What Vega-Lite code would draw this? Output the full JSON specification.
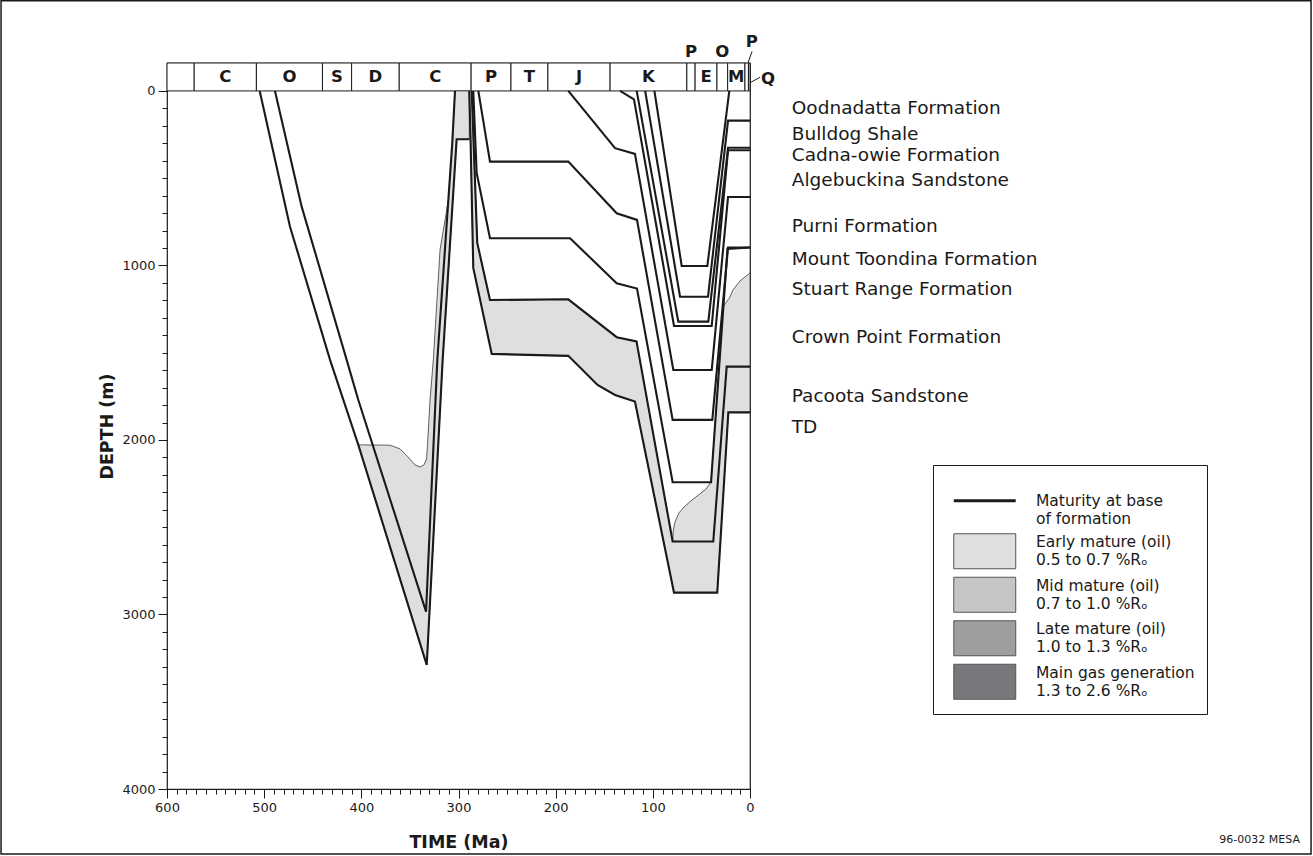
{
  "$schema": "https://vega.github.io/schema/vega-lite/v6.json",
  "width": 583,
  "height": 726,
  "autosize": {"type": "none"},
  "padding": {"left": 167, "top": 63, "right": 563, "bottom": 67},
  "background": "white",
  "config": {
    "view": {"stroke": "#1a1a1a", "strokeWidth": 1.2},
    "font": "DejaVu Sans",
    "text": {"font": "DejaVu Sans", "color": "#1a1a1a"},
    "axis": {"labelFont": "DejaVu Sans", "titleFont": "DejaVu Sans", "labelColor": "#1a1a1a", "titleColor": "#1a1a1a", "tickColor": "#1a1a1a", "grid": false, "domain": false, "labelFlush": false, "labelOverlap": false}
  },
  "resolve": {"axis": {"x": "independent", "y": "independent"}},
  "datasets": {
    "periods": [
      {"id": 1, "lab": "", "start": 600, "end": 572},
      {"id": 2, "lab": "C", "start": 572, "end": 508},
      {"id": 3, "lab": "O", "start": 508, "end": 440},
      {"id": 4, "lab": "S", "start": 440, "end": 410},
      {"id": 5, "lab": "D", "start": 410, "end": 361},
      {"id": 6, "lab": "C", "start": 361, "end": 287},
      {"id": 7, "lab": "P", "start": 287, "end": 246},
      {"id": 8, "lab": "T", "start": 246, "end": 208},
      {"id": 9, "lab": "J", "start": 208, "end": 144},
      {"id": 10, "lab": "K", "start": 144, "end": 65},
      {"id": 11, "lab": "P", "start": 65, "end": 56.5},
      {"id": 12, "lab": "E", "start": 56.5, "end": 34},
      {"id": 13, "lab": "O", "start": 34, "end": 23},
      {"id": 14, "lab": "M", "start": 23, "end": 5.2},
      {"id": 15, "lab": "P", "start": 5.2, "end": 1.6},
      {"id": 16, "lab": "Q", "start": 1.6, "end": 0}
    ],
    "polys": [
      {"poly": "A", "zone": "early", "ord": 1, "t": 403.1, "d": 2028},
      {"poly": "A", "zone": "early", "ord": 2, "t": 370.5, "d": 2030},
      {"poly": "A", "zone": "early", "ord": 3, "t": 360.2, "d": 2051},
      {"poly": "A", "zone": "early", "ord": 4, "t": 352.0, "d": 2097},
      {"poly": "A", "zone": "early", "ord": 5, "t": 344.8, "d": 2143},
      {"poly": "A", "zone": "early", "ord": 6, "t": 339.6, "d": 2155},
      {"poly": "A", "zone": "early", "ord": 7, "t": 335.5, "d": 2143},
      {"poly": "A", "zone": "early", "ord": 8, "t": 332.9, "d": 2109},
      {"poly": "A", "zone": "early", "ord": 9, "t": 331.9, "d": 2028},
      {"poly": "A", "zone": "early", "ord": 10, "t": 329.3, "d": 1771},
      {"poly": "A", "zone": "early", "ord": 11, "t": 325.9, "d": 1541},
      {"poly": "A", "zone": "early", "ord": 12, "t": 319.0, "d": 911},
      {"poly": "A", "zone": "early", "ord": 13, "t": 310.4, "d": 625},
      {"poly": "A", "zone": "early", "ord": 14, "t": 306.4, "d": 298},
      {"poly": "A", "zone": "early", "ord": 15, "t": 303.6, "d": 0},
      {"poly": "A", "zone": "early", "ord": 16, "t": 288.9, "d": 0},
      {"poly": "A", "zone": "early", "ord": 17, "t": 288.9, "d": 277},
      {"poly": "A", "zone": "early", "ord": 18, "t": 301.9, "d": 277},
      {"poly": "A", "zone": "early", "ord": 19, "t": 316.3, "d": 1541},
      {"poly": "A", "zone": "early", "ord": 20, "t": 332.7, "d": 3289},
      {"poly": "A", "zone": "early", "ord": 21, "t": 403.1, "d": 2028},
      {"poly": "B", "zone": "early", "ord": 1, "t": 286.4, "d": 0},
      {"poly": "B", "zone": "early", "ord": 2, "t": 280.7, "d": 871},
      {"poly": "B", "zone": "early", "ord": 3, "t": 267.6, "d": 1198},
      {"poly": "B", "zone": "early", "ord": 4, "t": 187.0, "d": 1194},
      {"poly": "B", "zone": "early", "ord": 5, "t": 137.2, "d": 1411},
      {"poly": "B", "zone": "early", "ord": 6, "t": 116.8, "d": 1435},
      {"poly": "B", "zone": "early", "ord": 7, "t": 79.6, "d": 2582},
      {"poly": "B", "zone": "early", "ord": 8, "t": 78.9, "d": 2515},
      {"poly": "B", "zone": "early", "ord": 9, "t": 77.2, "d": 2470},
      {"poly": "B", "zone": "early", "ord": 10, "t": 73.1, "d": 2418},
      {"poly": "B", "zone": "early", "ord": 11, "t": 67.9, "d": 2384},
      {"poly": "B", "zone": "early", "ord": 12, "t": 59.7, "d": 2344},
      {"poly": "B", "zone": "early", "ord": 13, "t": 51.5, "d": 2309},
      {"poly": "B", "zone": "early", "ord": 14, "t": 45.3, "d": 2281},
      {"poly": "B", "zone": "early", "ord": 15, "t": 40.1, "d": 2242},
      {"poly": "B", "zone": "early", "ord": 16, "t": 34.5, "d": 1799},
      {"poly": "B", "zone": "early", "ord": 17, "t": 29.8, "d": 1427},
      {"poly": "B", "zone": "early", "ord": 18, "t": 27.3, "d": 1232},
      {"poly": "B", "zone": "early", "ord": 19, "t": 21.1, "d": 1186},
      {"poly": "B", "zone": "early", "ord": 20, "t": 17.5, "d": 1140},
      {"poly": "B", "zone": "early", "ord": 21, "t": 10.3, "d": 1089},
      {"poly": "B", "zone": "early", "ord": 22, "t": 0, "d": 1043},
      {"poly": "B", "zone": "early", "ord": 23, "t": 0, "d": 1842},
      {"poly": "B", "zone": "early", "ord": 24, "t": 22.3, "d": 1842},
      {"poly": "B", "zone": "early", "ord": 25, "t": 33.7, "d": 2875},
      {"poly": "B", "zone": "early", "ord": 26, "t": 78.2, "d": 2875},
      {"poly": "B", "zone": "early", "ord": 27, "t": 118.4, "d": 1780},
      {"poly": "B", "zone": "early", "ord": 28, "t": 138.9, "d": 1742},
      {"poly": "B", "zone": "early", "ord": 29, "t": 156.9, "d": 1685},
      {"poly": "B", "zone": "early", "ord": 30, "t": 187.0, "d": 1518},
      {"poly": "B", "zone": "early", "ord": 31, "t": 265.8, "d": 1507},
      {"poly": "B", "zone": "early", "ord": 32, "t": 284.8, "d": 1014},
      {"poly": "B", "zone": "early", "ord": 33, "t": 287.6, "d": 277},
      {"poly": "B", "zone": "early", "ord": 34, "t": 288.9, "d": 0},
      {"poly": "B", "zone": "early", "ord": 35, "t": 286.4, "d": 0}
    ],
    "lines": [
      {"ln": "L1", "ord": 1, "t": 504.6, "d": 0},
      {"ln": "L1", "ord": 2, "t": 473.4, "d": 778},
      {"ln": "L1", "ord": 3, "t": 432.2, "d": 1541},
      {"ln": "L1", "ord": 4, "t": 403.1, "d": 2028},
      {"ln": "L1", "ord": 5, "t": 332.7, "d": 3289},
      {"ln": "L1", "ord": 6, "t": 316.3, "d": 1541},
      {"ln": "L1", "ord": 7, "t": 301.9, "d": 277},
      {"ln": "L1", "ord": 8, "t": 288.9, "d": 277},
      {"ln": "L2", "ord": 1, "t": 488.9, "d": 0},
      {"ln": "L2", "ord": 2, "t": 461.4, "d": 663},
      {"ln": "L2", "ord": 3, "t": 415.1, "d": 1541},
      {"ln": "L2", "ord": 4, "t": 403.1, "d": 1771},
      {"ln": "L2", "ord": 5, "t": 333.4, "d": 2984},
      {"ln": "L2", "ord": 6, "t": 321.8, "d": 1541},
      {"ln": "L2", "ord": 7, "t": 306.4, "d": 298},
      {"ln": "L2", "ord": 8, "t": 303.6, "d": 0},
      {"ln": "P4", "ord": 1, "t": 288.9, "d": 0},
      {"ln": "P4", "ord": 2, "t": 287.6, "d": 277},
      {"ln": "P4", "ord": 3, "t": 284.8, "d": 1014},
      {"ln": "P4", "ord": 4, "t": 265.8, "d": 1507},
      {"ln": "P4", "ord": 5, "t": 187.0, "d": 1518},
      {"ln": "P4", "ord": 6, "t": 156.9, "d": 1685},
      {"ln": "P4", "ord": 7, "t": 138.9, "d": 1742},
      {"ln": "P4", "ord": 8, "t": 118.4, "d": 1780},
      {"ln": "P4", "ord": 9, "t": 78.2, "d": 2875},
      {"ln": "P4", "ord": 10, "t": 33.7, "d": 2875},
      {"ln": "P4", "ord": 11, "t": 22.3, "d": 1842},
      {"ln": "P4", "ord": 12, "t": 0, "d": 1842},
      {"ln": "P3", "ord": 1, "t": 286.4, "d": 0},
      {"ln": "P3", "ord": 2, "t": 280.7, "d": 871},
      {"ln": "P3", "ord": 3, "t": 267.6, "d": 1198},
      {"ln": "P3", "ord": 4, "t": 187.0, "d": 1194},
      {"ln": "P3", "ord": 5, "t": 137.2, "d": 1411},
      {"ln": "P3", "ord": 6, "t": 116.8, "d": 1435},
      {"ln": "P3", "ord": 7, "t": 79.6, "d": 2582},
      {"ln": "P3", "ord": 8, "t": 37.8, "d": 2582},
      {"ln": "P3", "ord": 9, "t": 24.0, "d": 1580},
      {"ln": "P3", "ord": 10, "t": 0, "d": 1580},
      {"ln": "P2", "ord": 1, "t": 284.8, "d": 0},
      {"ln": "P2", "ord": 2, "t": 281.3, "d": 470},
      {"ln": "P2", "ord": 3, "t": 267.6, "d": 844},
      {"ln": "P2", "ord": 4, "t": 185.2, "d": 844},
      {"ln": "P2", "ord": 5, "t": 137.2, "d": 1102},
      {"ln": "P2", "ord": 6, "t": 116.3, "d": 1132},
      {"ln": "P2", "ord": 7, "t": 79.6, "d": 2242},
      {"ln": "P2", "ord": 8, "t": 40.1, "d": 2242},
      {"ln": "P2", "ord": 9, "t": 23.2, "d": 905},
      {"ln": "P2", "ord": 10, "t": 0, "d": 897},
      {"ln": "P1", "ord": 1, "t": 279.6, "d": 0},
      {"ln": "P1", "ord": 2, "t": 267.6, "d": 405},
      {"ln": "P1", "ord": 3, "t": 187.0, "d": 405},
      {"ln": "P1", "ord": 4, "t": 137.2, "d": 701},
      {"ln": "P1", "ord": 5, "t": 116.3, "d": 739},
      {"ln": "P1", "ord": 6, "t": 79.6, "d": 1885},
      {"ln": "P1", "ord": 7, "t": 38.8, "d": 1885},
      {"ln": "P1", "ord": 8, "t": 22.6, "d": 897},
      {"ln": "P1", "ord": 9, "t": 0, "d": 897},
      {"ln": "J", "ord": 1, "t": 187.0, "d": 0},
      {"ln": "J", "ord": 2, "t": 138.9, "d": 328},
      {"ln": "J", "ord": 3, "t": 118.4, "d": 361},
      {"ln": "J", "ord": 4, "t": 78.9, "d": 1599},
      {"ln": "J", "ord": 5, "t": 39.4, "d": 1599},
      {"ln": "J", "ord": 6, "t": 22.6, "d": 608},
      {"ln": "J", "ord": 7, "t": 0, "d": 608},
      {"ln": "K0", "ord": 1, "t": 133.8, "d": 0},
      {"ln": "K0", "ord": 2, "t": 119.4, "d": 48},
      {"ln": "K0", "ord": 3, "t": 78.2, "d": 1347},
      {"ln": "K0", "ord": 4, "t": 39.4, "d": 1347},
      {"ln": "K0", "ord": 5, "t": 22.6, "d": 340},
      {"ln": "K0", "ord": 6, "t": 0, "d": 340},
      {"ln": "K1", "ord": 1, "t": 116.6, "d": 0},
      {"ln": "K1", "ord": 2, "t": 73.8, "d": 1322},
      {"ln": "K1", "ord": 3, "t": 42.9, "d": 1322},
      {"ln": "K1", "ord": 4, "t": 22.6, "d": 326},
      {"ln": "K1", "ord": 5, "t": 0, "d": 326},
      {"ln": "K2", "ord": 1, "t": 107.9, "d": 0},
      {"ln": "K2", "ord": 2, "t": 72.0, "d": 1179},
      {"ln": "K2", "ord": 3, "t": 43.2, "d": 1179},
      {"ln": "K2", "ord": 4, "t": 22.6, "d": 170},
      {"ln": "K2", "ord": 5, "t": 0, "d": 170},
      {"ln": "K3", "ord": 1, "t": 98.4, "d": 0},
      {"ln": "K3", "ord": 2, "t": 70.3, "d": 1003},
      {"ln": "K3", "ord": 3, "t": 43.9, "d": 1003},
      {"ln": "K3", "ord": 4, "t": 21.3, "d": 0}
    ],
    "formations": [
      {"f": "Oodnadatta Formation", "d": 97},
      {"f": "Bulldog Shale", "d": 246},
      {"f": "Cadna-owie Formation", "d": 367},
      {"f": "Algebuckina Sandstone", "d": 510},
      {"f": "Purni Formation", "d": 774},
      {"f": "Mount Toondina Formation", "d": 963},
      {"f": "Stuart Range Formation", "d": 1135},
      {"f": "Crown Point Formation", "d": 1410},
      {"f": "Pacoota Sandstone", "d": 1748},
      {"f": "TD", "d": 1925}
    ]
  },
  "layer": [
    {
      "data": {"name": "periods"},
      "mark": {"type": "rect", "fill": "white", "stroke": "#1a1a1a", "strokeWidth": 1},
      "encoding": {
        "x": {"field": "start", "type": "quantitative",
          "scale": {"domain": [0, 600], "reverse": true, "nice": false, "zero": false},
          "axis": {
            "orient": "bottom", "title": "TIME (Ma)",
            "values": [0, 100, 200, 300, 400, 500, 600],
            "format": "d", "labelFontSize": 13, "labelPadding": 3,
            "tickSize": 9, "tickWidth": 1,
            "titleFontSize": 17.5, "titleFontWeight": "bold", "titlePadding": 19
          }},
        "x2": {"field": "end"},
        "y": {"datum": -160, "type": "quantitative",
          "scale": {"domain": [-160, 4000], "reverse": true, "nice": false, "zero": false},
          "axis": {
            "orient": "left", "title": "DEPTH (m)",
            "values": [0, 1000, 2000, 3000, 4000],
            "format": "d", "labelFontSize": 13, "labelPadding": 3,
            "tickSize": 9, "tickWidth": 1,
            "titleFontSize": 17.5, "titleFontWeight": "bold", "titlePadding": 5
          }},
        "y2": {"datum": 0}
      }
    },
    {
      "data": {"name": "polys"},
      "mark": {"type": "line", "stroke": "#3a3a3a", "strokeWidth": 0.8, "strokeJoin": "round", "interpolate": "linear"},
      "encoding": {
        "x": {"field": "t", "type": "quantitative",
          "axis": {"orient": "bottom", "title": null, "labels": false, "domain": false,
            "values": [0,10,20,30,40,50,60,70,80,90,100,110,120,130,140,150,160,170,180,190,200,210,220,230,240,250,260,270,280,290,300,310,320,330,340,350,360,370,380,390,400,410,420,430,440,450,460,470,480,490,500,510,520,530,540,550,560,570,580,590,600],
            "tickSize": 5, "tickWidth": 1}},
        "y": {"field": "d", "type": "quantitative",
          "axis": {"orient": "left", "title": null, "labels": false, "domain": false,
            "values": [0,100,200,300,400,500,600,700,800,900,1000,1100,1200,1300,1400,1500,1600,1700,1800,1900,2000,2100,2200,2300,2400,2500,2600,2700,2800,2900,3000,3100,3200,3300,3400,3500,3600,3700,3800,3900,4000],
            "tickSize": 5, "tickWidth": 1}},
        "detail": {"field": "poly"},
        "order": {"field": "ord", "type": "quantitative"},
        "fill": {"field": "zone", "type": "nominal",
          "scale": {"domain": ["line", "early", "mid", "late", "gas"], "range": ["#ffffff", "#dedfde", "#c4c6c6", "#9c9ea0", "#76787b"]},
          "legend": {
            "orient": "none", "legendX": 766, "legendY": 402, "direction": "vertical",
            "title": "\u00a0", "titleFontSize": 9, "titlePadding": 7,
            "padding": 12, "strokeColor": "#1a1a1a", "fillColor": "#ffffff",
            "symbolType": "M-1.77,-1H1.77V1H-1.77Z", "symbolSize": 1225,
            "symbolStrokeColor": "#555555", "symbolStrokeWidth": 1, "symbolOffset": 32,
            "labelFont": "DejaVu Sans", "labelFontSize": 15.5, "labelColor": "#1a1a1a",
            "labelOffset": 43.5, "labelLimit": 400, "rowPadding": 3.5,
            "labelExpr": "datum.value === 'line' ? ['Maturity at base', 'of formation'] : datum.value === 'early' ? ['Early mature (oil)', '0.5 to 0.7 %Rₒ'] : datum.value === 'mid' ? ['Mid mature (oil)', '0.7 to 1.0 %Rₒ'] : datum.value === 'late' ? ['Late mature (oil)', '1.0 to 1.3 %Rₒ'] : ['Main gas generation', '1.3 to 2.6 %Rₒ']",
            "encode": {
              "symbols": {"update": {
                "shape": {"signal": "datum.value === 'line' ? 'M-1.77,0H1.77' : 'M-1.77,-1H1.77V1H-1.77Z'"},
                "strokeWidth": {"signal": "datum.value === 'line' ? 3 : 1"},
                "stroke": {"signal": "datum.value === 'line' ? '#1a1a1a' : '#555555'"}
              }},
              "labels": {"update": {
                "lineHeight": {"value": 18},
                "dy": {"signal": "datum.value === 'line' ? 0 : -9"}
              }}
            }
          }}
      }
    },
    {
      "data": {"name": "lines"},
      "mark": {"type": "line", "stroke": "#1a1a1a", "strokeWidth": 2.1, "strokeJoin": "miter", "interpolate": "linear"},
      "encoding": {
        "x": {"field": "t", "type": "quantitative", "axis": null},
        "y": {"field": "d", "type": "quantitative", "axis": null},
        "detail": {"field": "ln"},
        "order": {"field": "ord", "type": "quantitative"}
      }
    },
    {
      "data": {"name": "periods"},
      "transform": [
        {"fold": ["start", "end"], "as": ["k", "v"]},
        {"aggregate": [{"op": "mean", "field": "v", "as": "mid"}, {"op": "min", "field": "v", "as": "lo"}, {"op": "max", "field": "v", "as": "hi"}], "groupby": ["id", "lab"]},
        {"filter": "datum.hi - datum.lo >= 15"}
      ],
      "mark": {"type": "text", "fontSize": 16.5, "fontWeight": "bold", "baseline": "middle", "align": "center"},
      "encoding": {
        "x": {"field": "mid", "type": "quantitative", "axis": null},
        "y": {"datum": -80, "type": "quantitative", "axis": null},
        "text": {"field": "lab"}
      }
    },
    {
      "data": {"name": "periods"},
      "transform": [
        {"fold": ["start", "end"], "as": ["k", "v"]},
        {"aggregate": [{"op": "mean", "field": "v", "as": "mid"}, {"op": "min", "field": "v", "as": "lo"}, {"op": "max", "field": "v", "as": "hi"}], "groupby": ["id", "lab"]},
        {"filter": "datum.hi - datum.lo < 15 && datum.lo > 10"}
      ],
      "mark": {"type": "text", "fontSize": 16.5, "fontWeight": "bold", "baseline": "bottom", "align": "center", "dy": -3},
      "encoding": {
        "x": {"field": "mid", "type": "quantitative", "axis": null},
        "y": {"datum": -160, "type": "quantitative", "axis": null},
        "text": {"field": "lab"}
      }
    },
    {
      "data": {"name": "periods"},
      "transform": [
        {"fold": ["start", "end"], "as": ["k", "v"]},
        {"aggregate": [{"op": "mean", "field": "v", "as": "mid"}, {"op": "min", "field": "v", "as": "lo"}, {"op": "max", "field": "v", "as": "hi"}], "groupby": ["id", "lab"]},
        {"filter": "datum.lo > 1 && datum.hi < 6"}
      ],
      "mark": {"type": "text", "fontSize": 16.5, "fontWeight": "bold", "baseline": "bottom", "align": "center", "dx": 5, "dy": -13},
      "encoding": {
        "x": {"field": "mid", "type": "quantitative", "axis": null},
        "y": {"datum": -160, "type": "quantitative", "axis": null},
        "text": {"field": "lab"}
      }
    },
    {
      "data": {"name": "periods"},
      "transform": [{"filter": "datum.end < 1"}],
      "mark": {"type": "text", "fontSize": 16.5, "fontWeight": "bold", "baseline": "middle", "align": "left", "dx": 11},
      "encoding": {
        "x": {"field": "end", "type": "quantitative", "axis": null},
        "y": {"datum": -66, "type": "quantitative", "axis": null},
        "text": {"field": "lab"}
      }
    },
    {
      "data": {"values": [{"a": 2.1, "b": -160, "a2": -2.1, "b2": -226}, {"a": -1.0, "b": -50, "a2": -10.3, "b2": -78}]},
      "mark": {"type": "rule", "stroke": "#1a1a1a", "strokeWidth": 1},
      "encoding": {
        "x": {"field": "a", "type": "quantitative", "axis": null},
        "x2": {"field": "a2"},
        "y": {"field": "b", "type": "quantitative", "axis": null},
        "y2": {"field": "b2"}
      }
    },
    {
      "data": {"name": "formations"},
      "mark": {"type": "text", "fontSize": 18.5, "baseline": "middle", "align": "left"},
      "encoding": {
        "x": {"datum": -43, "type": "quantitative", "axis": null},
        "y": {"field": "d", "type": "quantitative", "axis": null},
        "text": {"field": "f"}
      }
    },
    {
      "data": {"values": [{"id": "96-0032 MESA"}]},
      "mark": {"type": "text", "fontSize": 11, "baseline": "middle", "align": "right"},
      "encoding": {
        "x": {"datum": -566, "type": "quantitative", "axis": null},
        "y": {"datum": 4292, "type": "quantitative", "axis": null},
        "text": {"field": "id"}
      }
    },
    {
      "data": {"values": [{"x1": 770.8, "x2": -577.4, "y1": -516, "y2": 4372}]},
      "mark": {"type": "rect", "fill": null, "fillOpacity": 0, "stroke": "#1a1a1a", "strokeWidth": 1.5},
      "encoding": {
        "x": {"field": "x1", "type": "quantitative", "axis": null},
        "x2": {"field": "x2"},
        "y": {"field": "y1", "type": "quantitative", "axis": null},
        "y2": {"field": "y2"}
      }
    }
  ]
}
